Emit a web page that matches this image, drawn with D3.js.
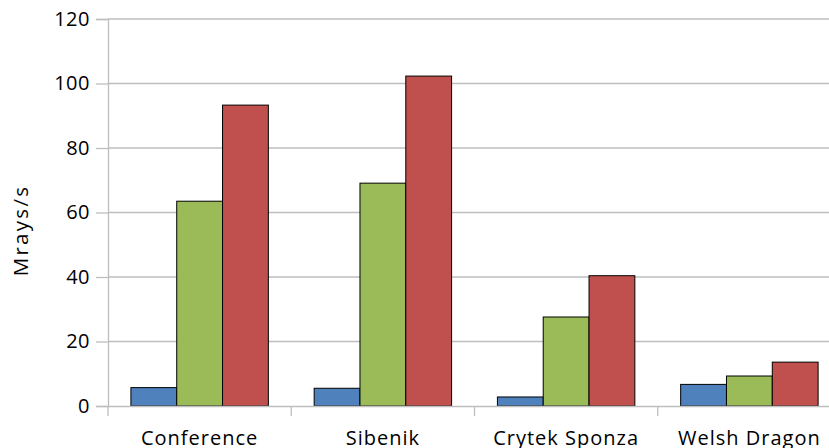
<!DOCTYPE html>
<html><head><meta charset="utf-8">
<script src="https://cdn.jsdelivr.net/npm/d3@7"></script>
<style>body{margin:0;background:#fff}svg{display:block}</style>
</head><body>
<script>
const categories = ["Conference", "Sibenik", "Crytek Sponza", "Welsh Dragon"];
const seriesNames = ["Series A", "Series B", "Series C"];
const seriesA = [5.7, 5.5, 2.8, 6.7];
const seriesB = [63.5, 69.1, 27.6, 9.3];
const seriesC = [93.3, 102.3, 40.4, 13.6];
const yTicks = [0, 20, 40, 60, 80, 100, 120];
const colors = ["#4F81BD", "#9BBB59", "#C0504D"];

const W = 829, H = 448;
const m = {left:108, top:19, right:-12, bottom:42};
const svg = d3.select("body").append("svg").attr("width", W).attr("height", H);
const x = d3.scaleBand().domain(categories).range([m.left, W - m.right]).paddingInner(0).paddingOuter(0);
const y = d3.scaleLinear().domain([0, 120]).range([H - m.bottom, m.top]);
const font = "'Open Sans', sans-serif";

// gridlines
svg.append("g").selectAll("line").data(yTicks.filter(d=>d>0)).join("line")
  .attr("x1", m.left).attr("x2", W - m.right)
  .attr("y1", d=>y(d)).attr("y2", d=>y(d))
  .attr("stroke", "#BEBEBE").attr("stroke-width", 1.3);

// y axis
const ya = svg.append("g").attr("transform", `translate(${m.left},0)`)
  .call(d3.axisLeft(y).tickValues(yTicks).tickSize(12).tickPadding(6));
ya.select(".domain").attr("stroke", "#BEBEBE").attr("stroke-width", 1.3);
ya.selectAll(".tick line").attr("stroke", "#BEBEBE").attr("stroke-width", 1.3);
ya.selectAll("text").attr("font-family", font).attr("font-size", 20).attr("fill", "#000").attr("letter-spacing", 0.5);

// bars
const rows = categories.map((c,i)=>({c, vals:[seriesA[i], seriesB[i], seriesC[i]]}));
const bw = x.bandwidth()/4;
const g = svg.append("g").selectAll("g").data(rows).join("g")
  .attr("transform", d=>`translate(${x(d.c)},0)`);
g.selectAll("rect").data(d=>d.vals.map((v,j)=>({v,j}))).join("rect")
  .attr("x", d=> x.bandwidth()/8 + d.j*bw)
  .attr("width", bw)
  .attr("y", d=>y(d.v)).attr("height", d=>y(0)-y(d.v))
  .attr("fill", d=>colors[d.j]).attr("stroke", "#000").attr("stroke-width", 1);

// x axis
const xa = svg.append("g").attr("transform", `translate(0,${y(0)})`)
  .call(d3.axisBottom(x).tickSize(0).tickPadding(25));
xa.select(".domain").attr("stroke", "#BEBEBE").attr("stroke-width", 1.3);
xa.selectAll("text").attr("font-family", font).attr("font-size", 20).attr("fill", "#000").attr("letter-spacing", 1);
svg.append("g").selectAll("line").data(categories.concat(["end"])).join("line")
  .attr("x1", (d,i)=>m.left + i*x.bandwidth()).attr("x2", (d,i)=>m.left + i*x.bandwidth())
  .attr("y1", y(0)).attr("y2", y(0)+10).attr("stroke", "#BEBEBE").attr("stroke-width", 1.3);

// y title
svg.append("text").attr("transform", `translate(28,${(y(0)+y(120))/2 + 18}) rotate(-90)`)
  .attr("text-anchor", "middle").attr("font-family", font).attr("font-size", 20.5).attr("letter-spacing", 2.3)
  .text("Mrays/s");
</script>
</body></html>
